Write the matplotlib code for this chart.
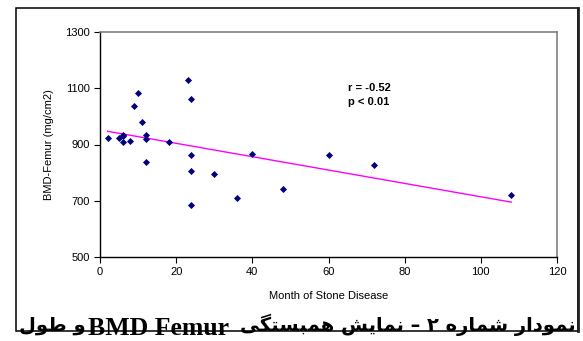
import numpy as np
import matplotlib
matplotlib.use("Agg")
import matplotlib.pyplot as plt
from matplotlib.patches import Rectangle
from matplotlib.lines import Line2D

# data
months = [2, 5, 6, 6, 6, 8, 9, 10, 11, 12, 12, 12, 18,
          23, 24, 24, 24, 24, 30, 36, 40, 48, 60, 72, 108]
bmd = [924, 924, 929, 933, 908, 912, 1037, 1082, 980, 933, 918, 839, 908,
       1130, 1062, 863, 806, 685, 794, 709, 867, 742, 863, 826, 722]
x_ticks = [0, 20, 40, 60, 80, 100, 120]
y_ticks = [500, 700, 900, 1100, 1300]
stats_text = "r = -0.52\np < 0.01"
caption_rtl = "نمودار شماره ۲ – نمایش همبستگی"
caption_ltr = "BMD Femur"
caption_tail = "و طول"

# minimal Arabic/Persian shaping (matplotlib has no text shaping)
FORMS = {
    'ا': ('\uFE8D', '\uFE8E', None, None),
    'ب': ('\uFE8F', '\uFE90', '\uFE91', '\uFE92'),
    'ت': ('\uFE95', '\uFE96', '\uFE97', '\uFE98'),
    'د': ('\uFEA9', '\uFEAA', None, None),
    'ر': ('\uFEAD', '\uFEAE', None, None),
    'س': ('\uFEB1', '\uFEB2', '\uFEB3', '\uFEB4'),
    'ش': ('\uFEB5', '\uFEB6', '\uFEB7', '\uFEB8'),
    'ط': ('\uFEC1', '\uFEC2', '\uFEC3', '\uFEC4'),
    'ل': ('\uFEDD', '\uFEDE', '\uFEDF', '\uFEE0'),
    'م': ('\uFEE1', '\uFEE2', '\uFEE3', '\uFEE4'),
    'ن': ('\uFEE5', '\uFEE6', '\uFEE7', '\uFEE8'),
    'ه': ('\uFEE9', '\uFEEA', '\uFEEB', '\uFEEC'),
    'و': ('\uFEED', '\uFEEE', None, None),
    'ی': ('\uFBFC', '\uFBFD', '\uFBFE', '\uFBFF'),
    'گ': ('\uFB92', '\uFB93', '\uFB94', '\uFB95'),
}


def shape_rtl(s):
    out = []
    for i, c in enumerate(s):
        if c not in FORMS:
            out.append(c)
            continue
        prev = s[i - 1] if i > 0 else ''
        nxt = s[i + 1] if i + 1 < len(s) else ''
        join_prev = prev in FORMS and FORMS[prev][2] is not None
        join_next = nxt in FORMS and FORMS[c][2] is not None
        iso, fin, ini, med = FORMS[c]
        if join_prev and join_next:
            out.append(med)
        elif join_prev:
            out.append(fin)
        elif join_next:
            out.append(ini)
        else:
            out.append(iso)
    return ''.join(out)[::-1]


plt.rcParams['font.family'] = ['Liberation Sans', 'DejaVu Sans']

fig = plt.figure(figsize=(5.83, 3.41), dpi=100)
ax = fig.add_axes([100 / 583, 1 - 257 / 341, 457 / 583, 225 / 341])

ax.scatter(months, bmd, marker='D', s=13, color='#000080', zorder=3, linewidths=0)

slope, icpt = np.polyfit(months, bmd, 1)
xl = np.array([min(months), max(months)])
ax.plot(xl, slope * xl + icpt, color='#FF00FF', lw=1.0)

ax.set_xlim(0, 120)
ax.set_ylim(500, 1300)
ax.set_xticks(x_ticks)
ax.set_yticks(y_ticks)
ax.tick_params(labelsize=8, length=4, width=0.8, direction='out', pad=3)
for s in ['top', 'right']:
    ax.spines[s].set_color('#808080')
    ax.spines[s].set_linewidth(1.2)
for s in ['left', 'bottom']:
    ax.spines[s].set_linewidth(1.0)

ax.set_xlabel("Month of Stone Disease", fontsize=8, labelpad=10)
ax.set_ylabel("BMD-Femur (mg/cm2)", fontsize=8, labelpad=8)

ax.text(0.543, 0.775, stats_text, transform=ax.transAxes, fontsize=8,
        fontweight='bold', va='top', ha='left', linespacing=1.6)

# outer frame
fig.patches.append(Rectangle((16 / 583, 1 - 330.5 / 341), 562 / 583, 322.5 / 341,
                             transform=fig.transFigure, fill=False,
                             edgecolor='black', lw=1.1))
fig.lines.append(Line2D([578 / 583, 578 / 583], [1 - 330.5 / 341, 1 - 8 / 341],
                        transform=fig.transFigure, color='#202020', lw=2))

# caption, cut by the bottom of the image as in the source
fig.text(576 / 583, 1 - 331 / 341, shape_rtl(caption_rtl), ha='right',
         va='baseline', fontsize=14, fontweight='bold', family='DejaVu Sans')
fig.text(229 / 583, 1 - 335 / 341, caption_ltr, ha='right', va='baseline',
         fontsize=18.5, fontweight='bold', family='Liberation Serif')
fig.text(86 / 583, 1 - 331 / 341, shape_rtl(caption_tail), ha='right',
         va='baseline', fontsize=14, fontweight='bold', family='DejaVu Sans')

fig.savefig("out.png", dpi=100)
